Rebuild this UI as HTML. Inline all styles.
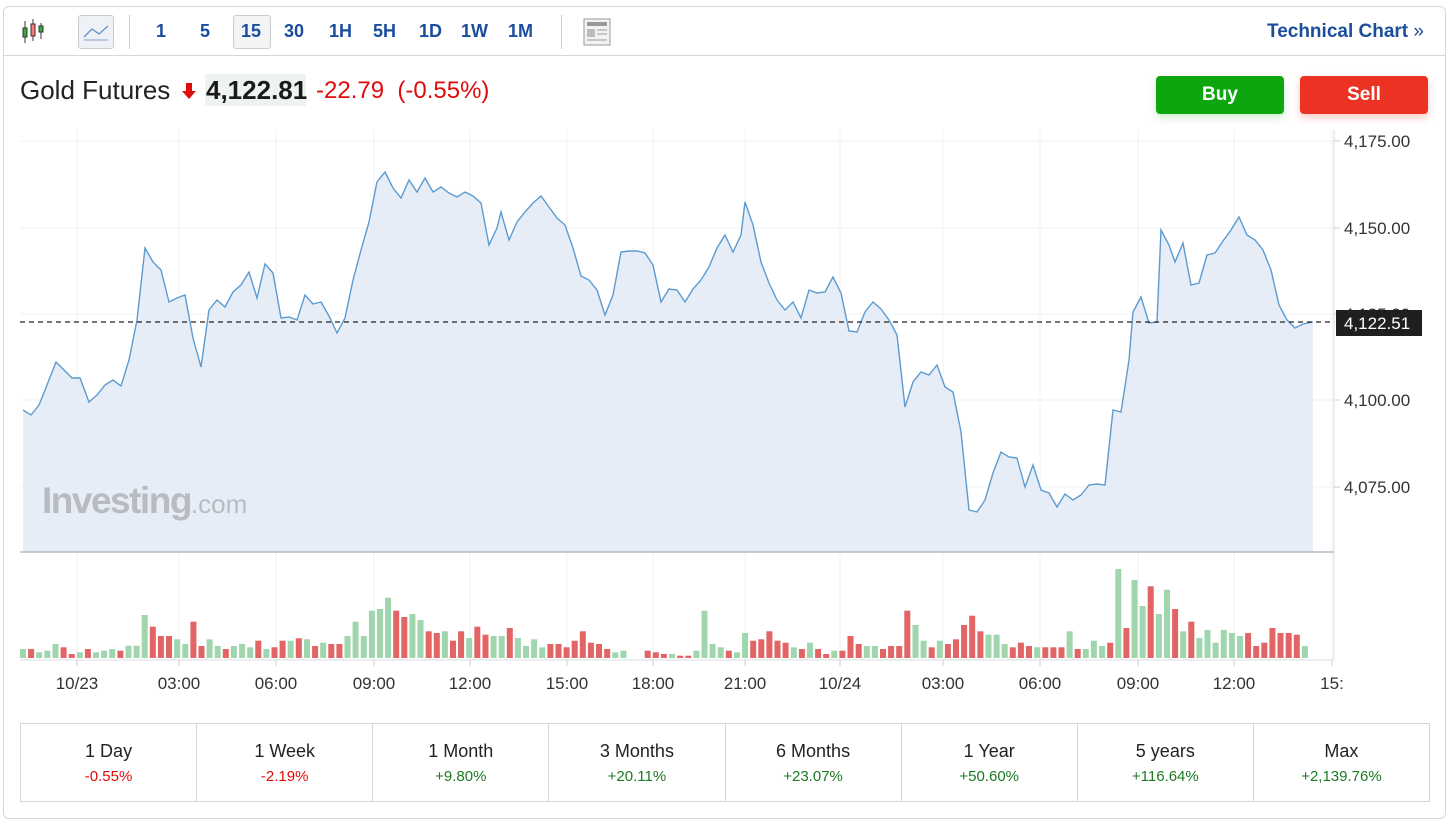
<!DOCTYPE html>
<html><head><meta charset="utf-8">
<style>
body{margin:0;width:1456px;height:829px;background:#fff;font-family:"Liberation Sans",sans-serif;overflow:hidden;position:relative}
.box{position:absolute;left:3px;top:6px;width:1441px;height:811px;border:1px solid #d4d6da;border-radius:6px}
.tb{position:absolute;left:0;top:0;width:1441px;height:48px;border-bottom:1px solid #d4d6da}
.t{position:absolute;top:14px;font-size:18px;font-weight:bold;color:#1a4d9c}
.ab{position:absolute;font-size:25px;color:#222}
.btn{position:absolute;top:76px;width:128px;height:38px;border-radius:4px;color:#fff;font-weight:bold;font-size:19px;text-align:center;line-height:38px}
table{position:absolute;left:20px;top:723px;width:1410px;height:79px;border-collapse:collapse;table-layout:fixed}
td{border:1px solid #d4d6da;text-align:center;font-size:18px;color:#222;padding:0}
td span{display:block;font-size:15px;margin-top:6px}
.r{color:#e00b0b}.g{color:#1b7a24}
</style></head><body>
<div class="box">
<div class="tb">
 <svg style="position:absolute;left:16px;top:10px" width="32" height="30"><g stroke="#333" stroke-width="1"><line x1="5" y1="4" x2="5" y2="26"/><line x1="13" y1="2" x2="13" y2="24"/><line x1="21" y1="6" x2="21" y2="22"/></g><rect x="3" y="11" width="4" height="9" fill="#3a3" stroke="#333"/><rect x="11" y="7" width="4" height="12" fill="#f77" stroke="#333"/><rect x="19" y="9" width="4" height="6" fill="#3a3" stroke="#333"/></svg>
 <div style="position:absolute;left:74px;top:8px;width:34px;height:32px;border:1px solid #ccc;border-radius:3px;background:#eef1f6"></div>
 <svg style="position:absolute;left:78px;top:14px" width="28" height="22"><polyline points="2,16 10,8 17,13 26,5" fill="none" stroke="#6a8fc8" stroke-width="1.3"/><rect x="2" y="18" width="24" height="2" fill="#b8c8e0"/></svg>
 <div style="position:absolute;left:125px;top:8px;width:1px;height:34px;background:#ccc"></div>
 <div class="t" style="left:152px">1</div>
 <div class="t" style="left:196px">5</div>
 <div style="position:absolute;left:229px;top:8px;width:36px;height:32px;border:1px solid #ccc;border-radius:3px;background:#f3f4f6"></div>
 <div class="t" style="left:237px">15</div>
 <div class="t" style="left:280px">30</div>
 <div class="t" style="left:325px">1H</div>
 <div class="t" style="left:369px">5H</div>
 <div class="t" style="left:415px">1D</div>
 <div class="t" style="left:457px">1W</div>
 <div class="t" style="left:504px">1M</div>
 <div style="position:absolute;left:557px;top:8px;width:1px;height:34px;background:#ccc"></div>
 <svg style="position:absolute;left:579px;top:11px" width="28" height="28"><rect x="1" y="1" width="26" height="26" fill="#f2f2f2" stroke="#999"/><rect x="4" y="4" width="20" height="4" fill="#999"/><rect x="4" y="11" width="8" height="8" fill="#bbb"/><g stroke="#999"><line x1="14" y1="12" x2="24" y2="12"/><line x1="14" y1="16" x2="24" y2="16"/><line x1="4" y1="22" x2="24" y2="22"/></g></svg>
 <div class="t" style="left:1263px;font-size:19px">Technical Chart <span style="font-weight:normal">»</span></div>
</div>
</div>
<div class="ab" style="left:20px;top:75px;font-size:26px">Gold Futures</div>
<svg style="position:absolute;left:181px;top:82px" width="16" height="18"><path d="M5 1h6v8h4l-7 8-7-8h4z" fill="#e00b0b"/></svg>
<div style="position:absolute;left:205px;top:74px;width:101px;height:32px;background:#eef3ef"></div>
<div class="ab" style="left:206px;top:75px;font-weight:bold;color:#1a1a1a;font-size:26px">4,122.81</div>
<div class="ab" style="left:316px;top:77px;color:#e00b0b;font-size:24px">-22.79&nbsp; (-0.55%)</div>
<div class="btn" style="left:1156px;background:#0ea60e;box-shadow:0 4px 8px rgba(14,166,14,.2)">Buy</div>
<div class="btn" style="left:1300px;background:#ec3323;box-shadow:0 4px 8px rgba(236,51,35,.25)">Sell</div>
<svg id="ch" style="position:absolute;left:0;top:0" width="1456" height="720"></svg>
<table><tr>
<td>1 Day<span class="r">-0.55%</span></td><td>1 Week<span class="r">-2.19%</span></td><td>1 Month<span class="g">+9.80%</span></td><td>3 Months<span class="g">+20.11%</span></td><td>6 Months<span class="g">+23.07%</span></td><td>1 Year<span class="g">+50.60%</span></td><td>5 years<span class="g">+116.64%</span></td><td>Max<span class="g">+2,139.76%</span></td>
</tr></table>
<script>
var s='';
var gx=[77,179,276,374,470,567,653,745,840,943,1040,1138,1234,1332];
var lb=['10/23','03:00','06:00','09:00','12:00','15:00','18:00','21:00','10/24','03:00','06:00','09:00','12:00','15:'];
gx.forEach(function(x,i){s+='<line x1="'+x+'" y1="130" x2="'+x+'" y2="660" stroke="#eef0f3"/>';
s+='<line x1="'+x+'" y1="660" x2="'+x+'" y2="666" stroke="#ccc"/>';
s+='<text x="'+x+'" y="689" font-size="17" fill="#333" text-anchor="middle" font-family="Liberation Sans">'+lb[i]+'</text>';});
[[141,'4,175.00'],[228,'4,150.00'],[314,'4,125.00'],[400,'4,100.00'],[487,'4,075.00']].forEach(function(a){
s+='<line x1="20" y1="'+a[0]+'" x2="1334" y2="'+a[0]+'" stroke="#eef0f3"/><line x1="1334" y1="'+a[0]+'" x2="1340" y2="'+a[0]+'" stroke="#ccc"/>';
s+='<text x="1344" y="'+(a[0]+6)+'" font-size="17" fill="#333" font-family="Liberation Sans">'+a[1]+'</text>';});
var p="23,410 31,415 39,405 47,385 56,362 64,370 72,378 80,378 89,402 97,395 105,385 113,380 121,386 129,360 137,320 145,248 153,262 161,270 169,302 177,298 185,295 193,338 201,367 209,310 217,300 225,307 233,292 241,285 249,272 257,298 265,264 273,273 281,318 289,317 297,320 305,295 313,304 321,302 329,316 337,333 345,318 353,280 361,250 369,222 377,182 385,172 393,188 401,198 409,180 417,192 425,178 433,192 441,187 449,193 457,197 465,192 473,196 481,203 489,245 497,228 501,212 509,240 517,222 525,212 533,203 541,196 549,207 557,218 565,225 573,248 581,276 589,280 597,290 605,315 613,295 621,252 629,251 637,251 645,253 653,265 661,302 669,289 677,290 685,302 693,289 701,280 709,267 717,248 725,235 733,252 741,235 745,202 753,225 761,262 769,283 777,300 785,310 793,302 801,318 809,290 817,293 825,292 833,277 841,293 849,331 857,332 865,312 873,302 881,309 889,320 897,335 905,407 913,382 921,372 929,375 937,365 945,387 953,392 961,432 969,510 977,512 985,500 993,473 1001,452 1009,457 1017,458 1025,487 1033,465 1041,490 1049,493 1057,507 1065,494 1073,500 1081,495 1089,485 1097,484 1105,485 1113,410 1121,412 1129,360 1133,312 1141,297 1149,323 1157,322 1161,230 1169,245 1175,262 1183,243 1191,285 1199,283 1207,255 1215,253 1223,241 1231,230 1239,217 1247,235 1255,240 1263,250 1271,270 1279,305 1287,320 1295,328 1303,324 1313,322";
s+='<polygon points="'+p+' 1313,552 23,552" fill="#e6edf6"/>';
s+='<polyline points="'+p+'" fill="none" stroke="#5c9bd1" stroke-width="1.4"/>';
s+='<line x1="20" y1="552" x2="1334" y2="552" stroke="#aab0b8" stroke-width="1.3"/>';
s+='<line x1="1334" y1="130" x2="1334" y2="660" stroke="#d8dde6"/>';
s+='<line x1="20" y1="660" x2="1334" y2="660" stroke="#d8dde6"/>';
var v="327g 327r 337g 332g 312g 322r 342r 337g 327r 337g 332g 327g 332r 317g 317g 225g 260r 288r 288r 298g 312g 245r 318r 298g 318g 327r 318g 312g 322g 302r 327g 322r 302r 302g 295r 298g 318r 308g 312r 312r 288g 245g 288g 212g 207g 173g 212r 231r 222g 240g 274r 279r 274g 302r 274r 294g 260r 284r 288g 288g 264r 294g 318g 298g 322g 312r 312r 322r 302r 274r 308r 312r 327r 337g 332g 354g 354g 332r 337r 342r 342g 347r 347r 332g 212g 312g 322g 332r 337g 279g 302r 298r 274r 302r 308r 322g 327r 308g 327r 342r 332g 332r 288r 312r 318g 318g 327r 318r 318r 212r 255g 302g 322r 302g 312r 298r 255r 227r 274r 284g 284g 312g 322r 308r 318r 322g 322r 322r 322r 274g 327r 327g 302g 318g 308r 87g 264r 120g 198g 139r 222g 149g 207r 274g 245r 294g 270g 308g 270g 279g 288g 279r 318r 308r 264r 279r 279r 284r 318g".split(' ');
var st=(1310-20)/v.length;
v.forEach(function(b,i){var h=(354-parseInt(b))/3;if(h<=0)return;var x=20+i*st;
s+='<rect x="'+x.toFixed(1)+'" y="'+(658-h).toFixed(1)+'" width="6" height="'+h.toFixed(1)+'" fill="'+(b.slice(-1)=='g'?'#9fd6ad':'#e26464')+'"/>';});
s+='<line x1="20" y1="322" x2="1334" y2="322" stroke="#222" stroke-dasharray="5,4" stroke-width="1.2"/>';
s+='<rect x="1336" y="310" width="86" height="26" fill="#1f1f1f"/><text x="1344" y="329" font-size="17" fill="#fff" font-family="Liberation Sans">4,122.51</text>';
s+='<text x="42" y="513" font-size="37" font-weight="bold" fill="#b8bcc2" font-family="Liberation Sans" letter-spacing="-1.5">Investing<tspan font-weight="normal" font-size="26" letter-spacing="0">.com</tspan></text>';
document.getElementById('ch').innerHTML=s;
</script>
</body></html>
